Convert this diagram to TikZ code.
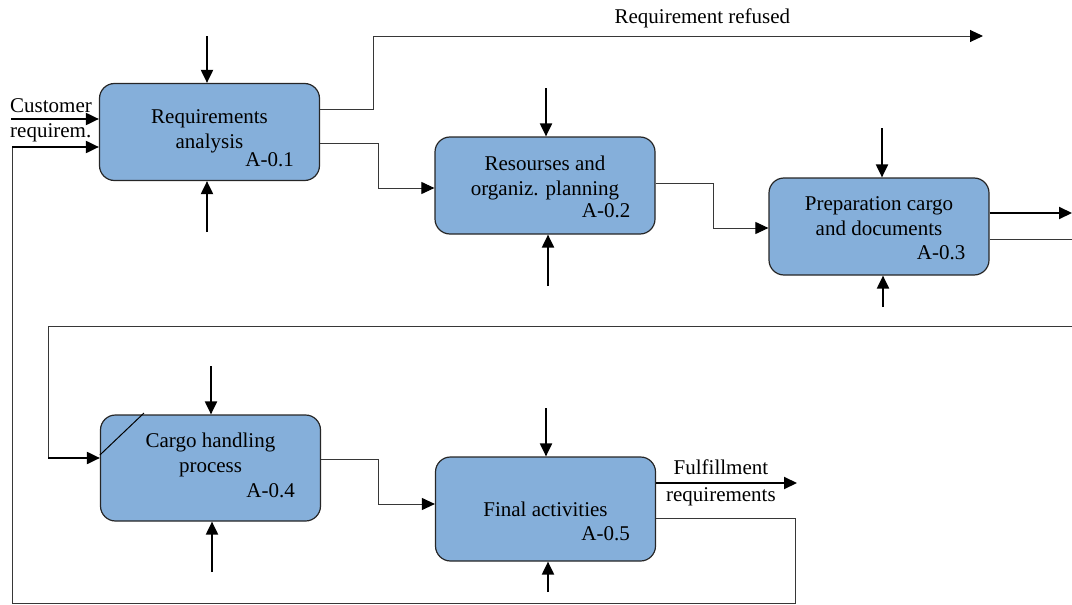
\documentclass[tikz,border=0pt]{standalone}
\usepackage{fontspec}
\setmainfont{Liberation Serif}
\usepackage{tikz}
\usetikzlibrary{positioning}
\usetikzlibrary{arrows.meta}
\definecolor{boxblue}{RGB}{133,175,218}
\definecolor{linegray}{RGB}{55,55,55}

\begin{document}
\begin{tikzpicture}[
x=1pt, y=-1pt,
every node/.style={font=\fontsize{21}{25}\selectfont},
activity/.style={rectangle, rounded corners=15pt, draw=black!85, line width=1.2pt, fill=boxblue, minimum width=220pt, minimum height=97pt},
boxtitle/.style={align=center, inner sep=0pt},
boxid/.style={inner sep=0pt},
edge/.style={-{Triangle[length=13pt,width=12pt]}, line width=2pt},
flow/.style={draw=linegray, line width=1pt},
flowarrow/.style={flow, -{Triangle[length=13pt,width=12pt,color=black]}}
]
\useasboundingbox (0,0) rectangle (1072,605);

%Nodes
\node[activity]                        (a1) at (209.5,132) {};
\node[activity]                        (a2) at (545,185.5) {};
\node[activity]                        (a3) at (879,226.5) {};
\node[activity, minimum height=106pt]  (a4) at (210.5,468) {};
\node[activity, minimum height=104pt]  (a5) at (545.5,509) {};

\node[boxtitle, below=26pt of a1.north] (t1) {Requirements\\analysis};
\node[boxtitle, below=19pt of a2.north] (t2) {Resourses and\\organiz. planning};
\node[boxtitle, below=19pt of a3.north] (t3) {Preparation cargo\\and documents};
\node[boxtitle, below=18pt of a4.north] (t4) {Cargo handling\\process};
\node[boxtitle, below=45pt of a5.north] (t5) {Final activities};

\node[boxid, above left=14pt and 26pt of a1.south east] (id1) {A-0.1};
\node[boxid, above left=17pt and 25pt of a2.south east] (id2) {A-0.2};
\node[boxid, above left=16pt and 24pt of a3.south east] (id3) {A-0.3};
\node[boxid, above left=24pt and 26pt of a4.south east] (id4) {A-0.4};
\node[boxid, above left=21pt and 26pt of a5.south east] (id5) {A-0.5};

%Controls and mechanisms
\coordinate (c1) at (207,36);   \draw[edge] (c1) -- (c1 |- a1.north);
\coordinate (m1) at (207,232);  \draw[edge] (m1) -- (m1 |- a1.south);
\coordinate (c2) at (546,88);   \draw[edge] (c2) -- (c2 |- a2.north);
\coordinate (m2) at (548,286);  \draw[edge] (m2) -- (m2 |- a2.south);
\coordinate (c3) at (882,128);  \draw[edge] (c3) -- (c3 |- a3.north);
\coordinate (m3) at (883,307);  \draw[edge] (m3) -- (m3 |- a3.south);
\coordinate (c4) at (211,366);  \draw[edge] (c4) -- (c4 |- a4.north);
\coordinate (m4) at (212,572);  \draw[edge] (m4) -- (m4 |- a4.south);
\coordinate (c5) at (546,408);  \draw[edge] (c5) -- (c5 |- a5.north);
\coordinate (m5) at (548,592);  \draw[edge] (m5) -- (m5 |- a5.south);

%Input
\coordinate (cust) at (11,119);
\draw[edge] (cust) -- (cust -| a1.west);
\node[boxid, above right=6pt and -1pt of cust] (custtop) {Customer};
\node[boxid, below right=4pt and -1pt of cust] (custbot) {requirem.};

%Lines
\coordinate (refused) at (983,36);
\draw[flowarrow] (a1.east |- 0,109) -| (373,36) -- (refused)
  node[boxid, pos=0.54, above=8pt] (reftext) {Requirement refused};
\draw[flowarrow] (a1.east |- 0,143) -| (378,188) -- (a2.west |- 0,188);
\draw[flowarrow] (a2.east |- 0,183) -| (713,228) -- (a3.west |- 0,228);

\coordinate (out3) at (1072,213);
\draw[edge] (a3.east |- out3) -- (out3);
\draw[flow] (a3.east |- 0,239) -- (1072,239);

\coordinate (back) at (1072,326);
\coordinate (turn4) at (48,458);
\draw[flow] (back) -| (turn4);
\draw[edge] (turn4) -- (turn4 -| a4.west);
\draw[line width=1pt] (a4.west |- 0,455) -- (144,413);

\draw[flowarrow] (a4.east |- 0,459) -| (378,504) -- (a5.west |- 0,504);

\coordinate (done) at (797,483);
\draw[edge] (a5.east |- done) -- (done)
  node[boxid, pos=0.46, above=7pt] (fulfil) {Fulfillment}
  node[boxid, pos=0.46, below=4pt] (fulreq) {requirements};

\coordinate (fb) at (12,147);
\draw[flow] (a5.east |- 0,518) -| (795,603) -| (fb);
\draw[edge] (fb) -- (fb -| a1.west);

\end{tikzpicture}
\end{document}
